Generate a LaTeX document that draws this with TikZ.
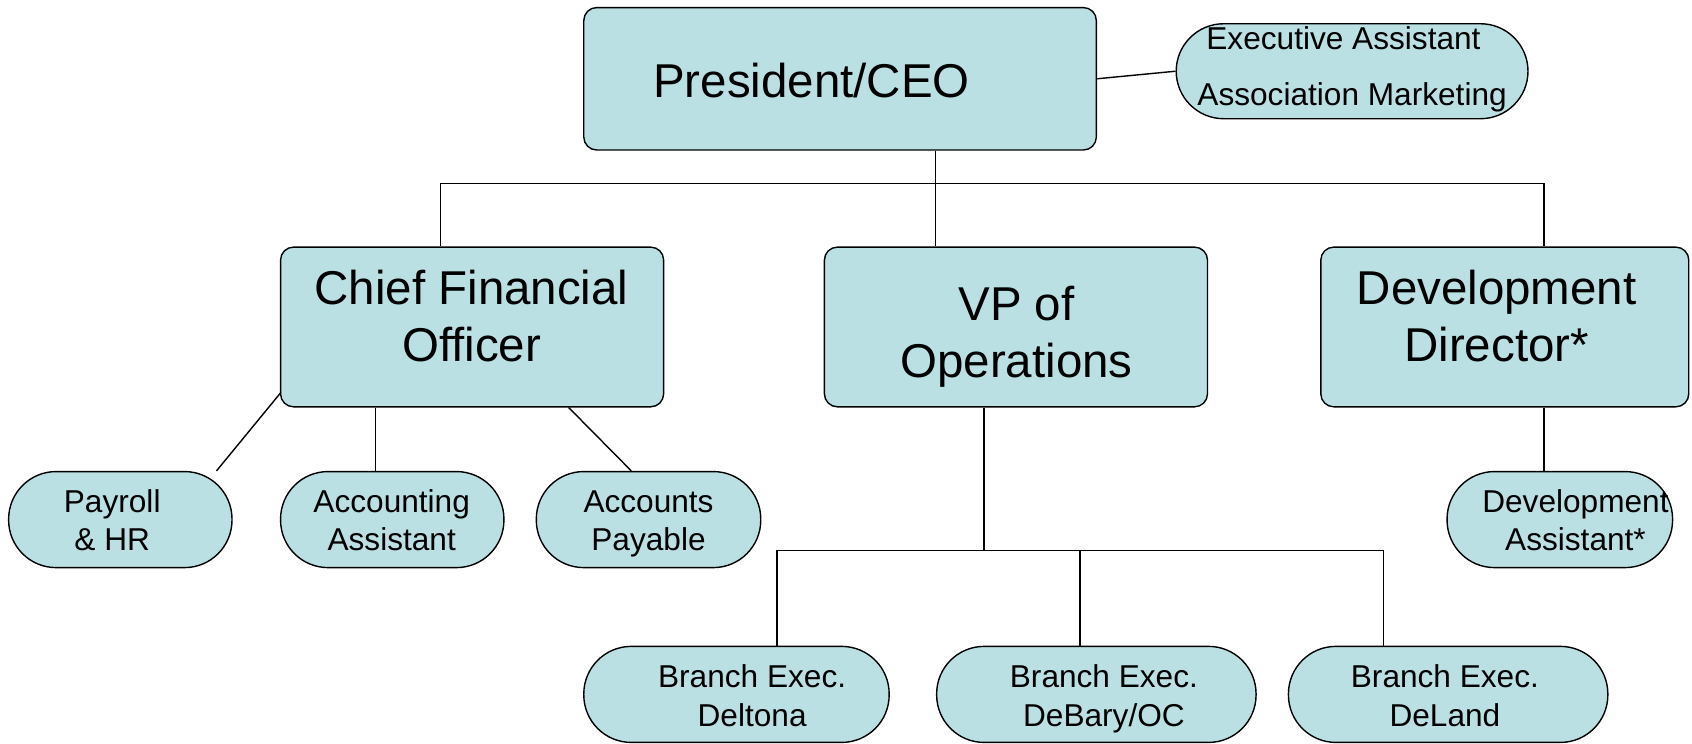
\documentclass[tikz,border=0pt]{standalone}
\usepackage{fontspec}
\setmainfont{Liberation Sans}
\usetikzlibrary{calc}
\definecolor{boxfill}{RGB}{187,224,227}
\begin{document}
\begin{tikzpicture}[x=1pt,y=-1pt,
  box/.style={draw=black, line width=1.3pt, fill=boxfill, rounded corners=12pt, inner sep=0pt},
  pill/.style={draw=black, line width=1.3pt, fill=boxfill, rounded corners=44pt, inner sep=0pt, minimum height=89pt},
  bigtxt/.style={font=\fontsize{44}{52.5}\selectfont, align=center, anchor=base, inner sep=0pt},
  smalltxt/.style={font=\fontsize{29.3}{35.5}\selectfont, align=center, anchor=base, inner sep=0pt},
  link/.style={line width=1.3pt, draw=black}]
\useasboundingbox (0,0) rectangle (1568,689);
% top level
\node[box, minimum width=475pt, minimum height=132pt] (ceo) at (778.5,73) {};
\node[bigtxt] (ceot) at (752,90) {President/CEO};
\node[pill, minimum width=326pt, minimum height=88pt] (exec) at (1253,66) {};
\node[smalltxt] (exect1) at (1245,46) {Executive Assistant};
\node[smalltxt] (exect2) at (1253,98) {Association Marketing};
% second level (base anchor = last line)
\node[box, minimum width=355pt, minimum height=148pt] (cfo) at (437.5,303) {};
\node[bigtxt] (cfot) at (437,335) {Chief Financial\\Officer};
\node[box, minimum width=355pt, minimum height=148pt] (vp) at (941.5,303) {};
\node[bigtxt, font=\fontsize{44}{53}\selectfont] (vpt) at (942,350) {VP of\\Operations};
\node[box, minimum width=341pt, minimum height=148pt] (dev) at (1394.5,303) {};
\node[bigtxt] (devt) at (1387,335) {Development\\Director*};
% third level
\node[pill, minimum width=207pt] (pay) at (111.5,481.5) {};
\node[smalltxt] (payt) at (104,510) {Payroll\\\& HR};
\node[pill, minimum width=207pt] (acc) at (363.5,481.5) {};
\node[smalltxt] (acct) at (363,510) {Accounting\\Assistant};
\node[pill, minimum width=208pt] (apay) at (601,481.5) {};
\node[smalltxt] (apayt) at (601,510) {Accounts\\Payable};
\node[pill, minimum width=209pt] (dasst) at (1445.5,481.5) {};
\node[smalltxt] (dasstt) at (1460,510) {Development\\Assistant*};
% branches
\node[pill, minimum width=283pt] (br1) at (682.5,643.5) {};
\node[smalltxt] (br1t) at (697,673) {Branch Exec.\\Deltona};
\node[pill, minimum width=296pt] (br2) at (1016,643.5) {};
\node[smalltxt] (br2t) at (1023,673) {Branch Exec.\\DeBary/OC};
\node[pill, minimum width=296pt] (br3) at (1342,643.5) {};
\node[smalltxt] (br3t) at (1339,673) {Branch Exec.\\DeLand};
% junctions
\coordinate (jC) at (408,170);
\coordinate (jV) at (867,170);
\coordinate (jD) at (1431,170);
\coordinate (jB) at (912,510);
\coordinate (jB1) at (720,510);
\coordinate (jB2) at (1001,510);
\coordinate (jB3) at (1282,510);
% connectors
\draw[link] (ceo.east) -- (exec.west);
\draw[link] (jV |- ceo.south) -- (jV);
\draw[link] (jC |- cfo.north) -- (jC) -- (jD) -- (jD |- dev.north);
\draw[link] (jV) -- (jV |- vp.north);
\draw[link] ($(cfo.south west)+(1,-14)$) -- ($(pay.north east)+(-15,0)$);
\draw[link] ($(acc.north)+(-15.5,0)$) coordinate (a1) -- (a1 |- cfo.south);
\draw[link] ($(cfo.south)+(89.5,0)$) -- ($(apay.north)+(-16,0)$);
\draw[link] (jD |- dev.south) -- (jD |- dasst.north);
\draw[link] (jB |- vp.south) -- (jB);
\draw[link] (jB1 |- br1.north) -- (jB1) -- (jB3) -- (jB3 |- br3.north);
\draw[link] (jB2) -- (jB2 |- br2.north);
\end{tikzpicture}
\end{document}
